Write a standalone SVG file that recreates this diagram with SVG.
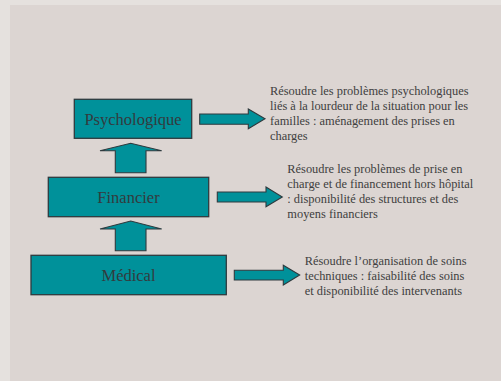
<svg xmlns="http://www.w3.org/2000/svg" width="501" height="381" viewBox="0 0 501 381">
<style>
.box{fill:#00919a;stroke:#2f3a3e;stroke-width:1.3}
.arr{fill:#00919a;stroke:#2f3a3e;stroke-width:1.1;stroke-linejoin:miter}
.lbl{font-family:"Liberation Serif","Times New Roman",serif;font-size:16.5px;fill:#333b3e;text-anchor:middle}
.desc{font-family:"Liberation Serif","Times New Roman",serif;font-size:12.4px;fill:#404040}
</style>
<rect x="0" y="0" width="501" height="381" fill="#e5e1de"/>
<rect x="10" y="5" width="491" height="376" fill="#dcd5d2"/>
<g id="connectors">
<path class="arr" d="M115.3,172.7 V150.7 H100 L130.7,143.3 L161.7,150.7 H146 V172.7 Z"/>
<path class="arr" d="M115.3,250.7 V229 H100 L130.7,221 L161.7,229 H146 V250.7 Z"/>
<path class="arr" d="M199.7,114 H248.3 V109 L265,118.7 L248.3,128.7 V124.3 H199.7 Z"/>
<path class="arr" d="M217.3,192 H266 V187 L282.3,197 L266,206.7 V202 H217.3 Z"/>
<path class="arr" d="M234.3,270.3 H283.3 V265.3 L299.7,275 L283.3,285 V280 H234.3 Z"/>
</g>
<g id="psychologique">
<rect class="box" x="74.3" y="99.3" width="117.4" height="39"/>
<text class="lbl" x="133" y="124.8">Psychologique</text>
</g>
<g id="financier">
<rect class="box" x="48.3" y="177.3" width="160.4" height="39.4"/>
<text class="lbl" x="128.5" y="202.8">Financier</text>
</g>
<g id="medical">
<rect class="box" x="31" y="255.3" width="195.3" height="39.4"/>
<text class="lbl" x="128.5" y="280.8">Médical</text>
</g>
<g id="desc-psychologique">
<text class="desc" x="270" y="94.8">Résoudre les problèmes psychologiques</text>
<text class="desc" x="270" y="109.8">liés à la lourdeur de la situation pour les</text>
<text class="desc" x="270" y="124.8">familles : aménagement des prises en</text>
<text class="desc" x="270" y="139.8">charges</text>
</g>
<g id="desc-financier">
<text class="desc" x="287.3" y="173">Résoudre les problèmes de prise en</text>
<text class="desc" x="287.3" y="188">charge et de financement hors hôpital</text>
<text class="desc" x="287.3" y="203">: disponibilité des structures et des</text>
<text class="desc" x="287.3" y="218">moyens financiers</text>
</g>
<g id="desc-medical">
<text class="desc" x="304.7" y="265">Résoudre l’organisation de soins</text>
<text class="desc" x="304.7" y="280">techniques : faisabilité des soins</text>
<text class="desc" x="304.7" y="295">et disponibilité des intervenants</text>
</g>
</svg>
